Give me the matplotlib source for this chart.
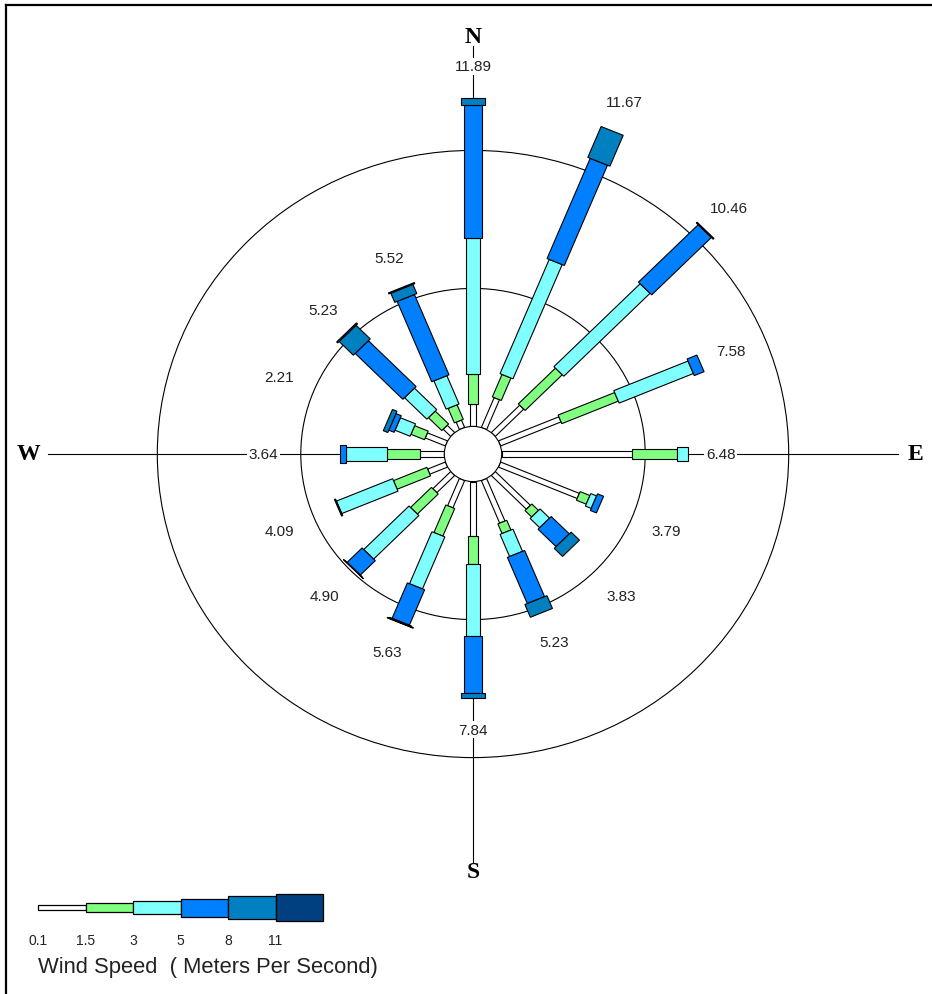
import numpy as np
import matplotlib
matplotlib.use("Agg")
import matplotlib.pyplot as plt
from matplotlib.patches import Polygon, Circle, Rectangle

# wind directions, clockwise from north
directions = ["N", "NNE", "NE", "ENE", "E", "ESE", "SE", "SSE",
              "S", "SSW", "SW", "WSW", "W", "WNW", "NW", "NNW"]
angles = np.arange(16) * 22.5

# frequency (%) per speed class and direction
spd_01_15 = [0.81, 1.17, 1.40, 2.28, 4.55, 2.97, 1.73, 1.67, 1.96, 1.07, 0.88, 0.67, 0.84, 0.76, 0.37, 0.29]
spd_15_3 = [1.09, 0.88, 1.83, 2.13, 1.55, 0.37, 0.33, 0.38, 1.04, 1.08, 1.03, 1.26, 1.17, 0.51, 0.66, 0.57]
spd_3_5 = [4.93, 4.48, 4.25, 2.80, 0.38, 0.22, 0.47, 0.87, 2.58, 2.04, 2.23, 2.12, 1.41, 0.57, 1.10, 1.11]
spd_5_8 = [4.81, 3.93, 2.94, 0.37, 0.00, 0.23, 0.89, 1.81, 2.09, 1.39, 0.74, 0.04, 0.22, 0.20, 2.35, 3.15]
spd_8_11 = [0.25, 1.21, 0.04, 0.00, 0.00, 0.00, 0.41, 0.50, 0.17, 0.03, 0.01, 0.00, 0.00, 0.17, 0.70, 0.36]
spd_11p = [0.00, 0.00, 0.00, 0.00, 0.00, 0.00, 0.00, 0.00, 0.00, 0.02, 0.01, 0.00, 0.00, 0.00, 0.05, 0.04]

class_ticks = ["0.1", "1.5", "3", "5", "8", "11"]
class_colors = ["#ffffff", "#80ff80", "#80ffff", "#0080ff", "#0080c0", "#004080"]
class_width_px = [5.5, 9.3, 13.5, 18.0, 23.0, 27.0]

rings = [5, 10]

classes = np.array([spd_01_15, spd_15_3, spd_3_5, spd_5_8, spd_8_11, spd_11p])
totals = classes.sum(axis=0)

# pixel geometry of the original (slightly stretched horizontally)
W, H = 932, 995
cx, cy = 473, 455
sx, sy = 28.7, 27.6     # px per unit
calm = 1.0              # calm circle radius in units

fig = plt.figure(figsize=(W / 100, H / 100), dpi=100)
ax = fig.add_axes([0, 0, 1, 1])
ax.set_xlim(-cx / sx, (W - cx) / sx)
ax.set_ylim(-(H - cy) / sy, cy / sy)
ax.axis("off")

# rings
for r in rings:
    ax.add_patch(Circle((0, 0), calm + r, fill=False, ec="black", lw=0.8, zorder=1))

# compass axes
ax_len = 14.8
for a in [0, 90, 180, 270]:
    t = np.radians(a)
    ax.plot([calm * np.sin(t), ax_len * np.sin(t)], [calm * np.cos(t), ax_len * np.cos(t)],
            color="black", lw=0.8, zorder=1)

letter_font = dict(family="Liberation Serif", fontweight="bold", fontsize=17)
ax.text(0, 15.12, "N", ha="center", va="center", **letter_font)
ax.text(0, -15.12, "S", ha="center", va="center", **letter_font)
ax.text(-15.5, 0, "W", ha="center", va="center", **letter_font)
ax.text(15.42, 0, "E", ha="center", va="center", **letter_font)

# bars
for i, a in enumerate(angles):
    t = np.radians(a)
    d = np.array([np.sin(t), np.cos(t)])
    p = np.array([np.cos(t), -np.sin(t)])
    r0 = calm
    for k in range(len(class_colors)):
        v = classes[k, i]
        if v <= 0:
            continue
        r1 = r0 + v
        hw = class_width_px[k] / sy / 2
        pts = [r0 * d + hw * p, r1 * d + hw * p, r1 * d - hw * p, r0 * d - hw * p]
        ax.add_patch(Polygon(pts, closed=True, fc=class_colors[k], ec="black", lw=0.8, zorder=3))
        r0 = r1

    rl = max(calm + totals[i] + 1.15, 7.3)
    cardinal = directions[i] in ("N", "E", "S", "W")
    ax.text(rl * d[0], rl * d[1], f"{totals[i]:.2f}", ha="center", va="center",
            family="Liberation Sans", fontsize=11, color="#222222", zorder=4,
            bbox=dict(fc="white", ec="none", pad=1.2) if cardinal else None)

# calm circle
ax.add_patch(Circle((0, 0), calm, fc="white", ec="black", lw=0.8, zorder=5))

# legend + frame in pixel coordinates
lax = fig.add_axes([0, 0, 1, 1])
lax.set_xlim(0, W)
lax.set_ylim(H, 0)
lax.axis("off")
lax.patch.set_alpha(0)

x0, seg, yc = 38, 47.5, 908.5
for k, c in enumerate(class_colors):
    h = class_width_px[k]
    lax.add_patch(Rectangle((x0 + k * seg, yc - h / 2), seg, h, fc=c, ec="black", lw=0.9))
    lax.text(x0 + k * seg, 941, class_ticks[k], ha="center", va="center",
             family="Liberation Sans", fontsize=10, color="#222222")
lax.text(38, 967, "Wind Speed  ( Meters Per Second)", ha="left", va="center",
         family="Liberation Sans", fontsize=15.8, color="#222222")

lax.plot([6, W], [6, 6], color="black", lw=1.6, clip_on=False)
lax.plot([6, 6], [6, H], color="black", lw=1.6, clip_on=False)

fig.savefig("out.png", dpi=100)
